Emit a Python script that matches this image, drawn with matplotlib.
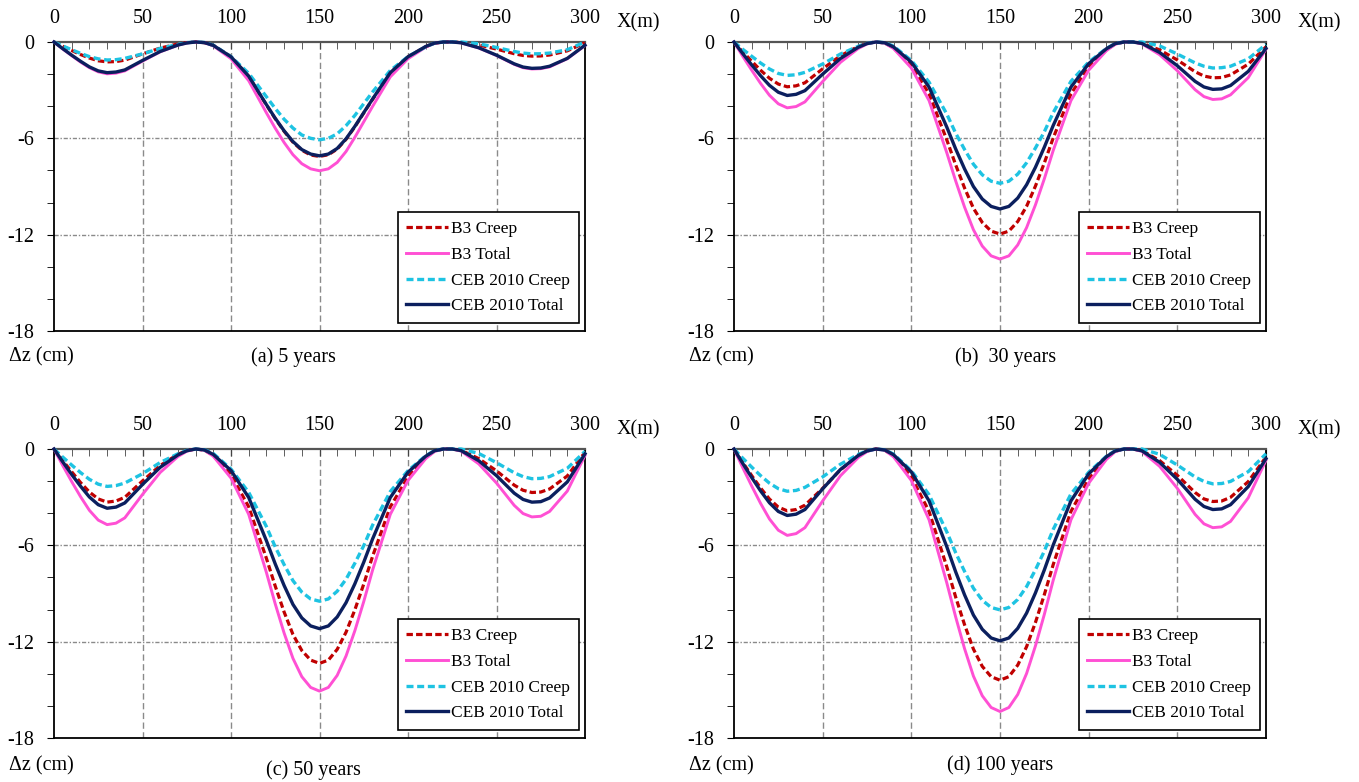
import numpy as np
import matplotlib
matplotlib.use('Agg')
import matplotlib.pyplot as plt
from matplotlib.ticker import MultipleLocator

plt.rcParams['font.family'] = ['Liberation Serif', 'DejaVu Serif']
plt.rcParams['axes.unicode_minus'] = False

# 位置 X (m)
X_M = [0, 5, 10, 15, 20, 25, 30, 35, 40, 50, 60, 70, 75, 80, 85, 90, 100, 110, 120, 125, 130, 135,
       140, 145, 150, 155, 160, 165, 170, 175, 180, 190, 200, 210, 215, 220, 225, 230, 240, 250,
       260, 265, 270, 275, 280, 290, 300]

# (a) 5 years
a_b3_creep = [0, -0.27, -0.53, -0.78, -1.00, -1.17, -1.24, -1.22, -1.13, -0.74, -0.38, -0.12, -0.04, 0, -0.04, -0.21, -0.93, -2.14, -3.92, -4.78, -5.56, -6.24, -6.74, -7.04, -7.13, -7.02, -6.67, -6.06, -5.28, -4.42, -3.57, -1.93, -0.93, -0.29, -0.07, 0, 0, -0.03, -0.19, -0.44, -0.73, -0.84, -0.88, -0.87, -0.81, -0.55, -0.05]
a_b3_total = [0, -0.44, -0.85, -1.25, -1.60, -1.86, -1.98, -1.94, -1.80, -1.19, -0.61, -0.20, -0.06, 0, -0.04, -0.24, -1.04, -2.41, -4.41, -5.37, -6.26, -7.02, -7.58, -7.90, -8.02, -7.90, -7.50, -6.82, -5.93, -4.97, -4.01, -2.17, -1.04, -0.32, -0.08, 0, 0, -0.05, -0.37, -0.84, -1.39, -1.60, -1.68, -1.66, -1.55, -1.04, -0.22]
a_ceb_creep = [0, -0.25, -0.48, -0.71, -0.91, -1.05, -1.12, -1.10, -1.02, -0.74, -0.40, -0.15, -0.04, 0, -0.03, -0.20, -0.91, -1.95, -3.41, -4.14, -4.81, -5.36, -5.79, -6.00, -6.09, -6.00, -5.72, -5.21, -4.57, -3.84, -3.11, -1.77, -0.91, -0.30, -0.07, 0, 0, 0, -0.11, -0.34, -0.59, -0.69, -0.74, -0.73, -0.69, -0.48, 0]
a_ceb_total = [0, -0.42, -0.82, -1.20, -1.55, -1.80, -1.91, -1.87, -1.74, -1.15, -0.59, -0.19, -0.06, 0, -0.04, -0.21, -0.92, -2.13, -3.90, -4.75, -5.53, -6.20, -6.70, -6.98, -7.09, -6.98, -6.63, -6.03, -5.25, -4.40, -3.55, -1.91, -0.92, -0.28, -0.07, 0, 0, -0.05, -0.36, -0.82, -1.36, -1.56, -1.64, -1.62, -1.51, -1.02, -0.20]

# (b) 30 years
b_b3_creep = [0, -0.61, -1.20, -1.76, -2.26, -2.62, -2.79, -2.73, -2.54, -1.67, -0.86, -0.28, -0.08, 0, -0.06, -0.36, -1.44, -3.23, -6.10, -7.65, -9.09, -10.35, -11.24, -11.78, -11.96, -11.78, -11.18, -10.23, -8.97, -7.53, -5.98, -3.23, -1.55, -0.48, -0.12, 0, 0, -0.07, -0.49, -1.12, -1.85, -2.12, -2.23, -2.21, -2.05, -1.38, -0.30]
b_b3_total = [0, -0.90, -1.76, -2.58, -3.32, -3.85, -4.10, -4.02, -3.73, -2.46, -1.27, -0.41, -0.12, 0, -0.07, -0.41, -1.62, -3.65, -6.90, -8.65, -10.28, -11.69, -12.71, -13.32, -13.52, -13.32, -12.64, -11.56, -10.14, -8.52, -6.76, -3.65, -1.76, -0.54, -0.14, 0, 0, -0.11, -0.79, -1.79, -2.97, -3.40, -3.58, -3.54, -3.29, -2.22, -0.45]
b_ceb_creep = [0, -0.46, -0.89, -1.31, -1.68, -1.96, -2.08, -2.04, -1.89, -1.37, -0.75, -0.27, -0.08, 0, -0.04, -0.26, -1.15, -2.50, -4.49, -5.68, -6.69, -7.61, -8.27, -8.67, -8.80, -8.67, -8.23, -7.52, -6.60, -5.59, -4.40, -2.45, -1.25, -0.40, -0.10, 0, 0, 0, -0.24, -0.75, -1.30, -1.51, -1.62, -1.60, -1.51, -1.05, -0.15]
b_ceb_total = [0, -0.73, -1.43, -2.10, -2.70, -3.13, -3.33, -3.26, -3.03, -2.00, -1.03, -0.33, -0.10, 0, -0.05, -0.31, -1.25, -2.81, -5.30, -6.66, -7.90, -9.00, -9.78, -10.24, -10.40, -10.24, -9.72, -8.89, -7.80, -6.55, -5.20, -2.81, -1.35, -0.42, -0.10, 0, 0, -0.09, -0.65, -1.48, -2.45, -2.80, -2.95, -2.92, -2.71, -1.83, -0.40]

# (c) 50 years
c_b3_creep = [0, -0.73, -1.42, -2.09, -2.68, -3.11, -3.31, -3.24, -3.01, -1.99, -1.03, -0.33, -0.10, 0, -0.07, -0.40, -1.60, -3.60, -6.81, -8.54, -10.15, -11.55, -12.55, -13.15, -13.35, -13.15, -12.48, -11.41, -10.01, -8.41, -6.68, -3.60, -1.74, -0.53, -0.13, 0, 0, -0.08, -0.60, -1.36, -2.25, -2.57, -2.71, -2.68, -2.49, -1.68, -0.20]
c_b3_total = [0, -1.04, -2.03, -2.97, -3.82, -4.43, -4.71, -4.62, -4.29, -2.83, -1.46, -0.47, -0.14, 0, -0.08, -0.45, -1.81, -4.07, -7.69, -9.65, -11.46, -13.04, -14.18, -14.85, -15.08, -14.85, -14.10, -12.89, -11.31, -9.50, -7.54, -4.07, -1.96, -0.60, -0.15, 0, 0, -0.13, -0.93, -2.12, -3.51, -4.02, -4.23, -4.19, -3.89, -2.62, -0.40]
c_ceb_creep = [0, -0.51, -1.00, -1.47, -1.89, -2.19, -2.33, -2.28, -2.12, -1.54, -0.84, -0.30, -0.09, 0, -0.05, -0.28, -1.25, -2.70, -4.83, -6.10, -7.20, -8.20, -8.91, -9.34, -9.48, -9.34, -8.86, -8.11, -7.11, -6.02, -4.74, -2.65, -1.35, -0.42, -0.10, 0, 0, 0, -0.28, -0.85, -1.48, -1.72, -1.85, -1.83, -1.72, -1.20, -0.15]
c_ceb_total = [0, -0.81, -1.59, -2.32, -2.99, -3.47, -3.69, -3.62, -3.36, -2.21, -1.14, -0.37, -0.11, 0, -0.06, -0.34, -1.34, -3.02, -5.71, -7.16, -8.50, -9.68, -10.52, -11.02, -11.19, -11.02, -10.46, -9.57, -8.39, -7.05, -5.60, -3.02, -1.45, -0.45, -0.11, 0, 0, -0.10, -0.73, -1.66, -2.75, -3.14, -3.31, -3.28, -3.05, -2.05, -0.30]

# (d) 100 years
d_b3_creep = [0, -0.85, -1.66, -2.43, -3.12, -3.62, -3.85, -3.77, -3.50, -2.45, -1.30, -0.42, -0.12, 0, -0.07, -0.43, -1.73, -3.89, -7.34, -9.22, -10.94, -12.46, -13.54, -14.18, -14.40, -14.18, -13.46, -12.31, -10.80, -9.07, -7.20, -3.89, -1.87, -0.58, -0.14, 0, 0, -0.10, -0.72, -1.64, -2.71, -3.11, -3.27, -3.24, -3.01, -2.03, -0.50]
d_b3_total = [0, -1.18, -2.31, -3.39, -4.36, -5.06, -5.38, -5.27, -4.90, -3.23, -1.67, -0.54, -0.16, 0, -0.08, -0.49, -1.96, -4.41, -8.34, -10.46, -12.43, -14.14, -15.37, -16.10, -16.35, -16.10, -15.29, -13.98, -12.26, -10.30, -8.18, -4.41, -2.13, -0.65, -0.16, 0, 0, -0.15, -1.08, -2.45, -4.07, -4.66, -4.90, -4.85, -4.51, -3.04, -0.70]
d_ceb_creep = [0, -0.58, -1.13, -1.66, -2.13, -2.47, -2.63, -2.58, -2.39, -1.74, -0.95, -0.34, -0.11, 0, -0.05, -0.32, -1.35, -2.85, -5.16, -6.46, -7.62, -8.67, -9.42, -9.87, -10.02, -9.87, -9.37, -8.57, -7.52, -6.36, -5.01, -2.80, -1.45, -0.45, -0.11, 0, 0, 0, -0.33, -1.00, -1.74, -2.02, -2.17, -2.15, -2.02, -1.41, -0.30]
d_ceb_total = [0, -0.91, -1.78, -2.61, -3.35, -3.89, -4.14, -4.06, -3.77, -2.48, -1.28, -0.41, -0.12, 0, -0.06, -0.36, -1.43, -3.23, -6.09, -7.65, -9.08, -10.34, -11.23, -11.77, -11.95, -11.77, -11.17, -10.22, -8.96, -7.53, -5.98, -3.23, -1.55, -0.48, -0.12, 0, 0, -0.11, -0.83, -1.89, -3.13, -3.58, -3.77, -3.73, -3.47, -2.34, -0.60]

SERIES_LABELS = ["B3 Creep", "B3 Total", "CEB 2010 Creep", "CEB 2010 Total"]
PANEL_TITLES = ["(a) 5 years", "(b)  30 years", "(c) 50 years", "(d) 100 years"]
X_TICKS = [0, 50, 100, 150, 200, 250, 300]
Y_TICKS = [0, -6, -12, -18]

panel_data = [
    [a_b3_creep, a_b3_total, a_ceb_creep, a_ceb_total],
    [b_b3_creep, b_b3_total, b_ceb_creep, b_ceb_total],
    [c_b3_creep, c_b3_total, c_ceb_creep, c_ceb_total],
    [d_b3_creep, d_b3_total, d_ceb_creep, d_ceb_total],
]

# 線のスタイル (色, 太さ, 破線パターン)
styles = [
    dict(color='#C00000', lw=2.3, dashes=(2.0, 1.0)),
    dict(color='#FF50D4', lw=2.1),
    dict(color='#1EC3E2', lw=2.4, dashes=(2.1, 1.1)),
    dict(color='#0B1F5E', lw=2.4),
]

W, H = 1359, 782
fig = plt.figure(figsize=(W / 100, H / 100), dpi=100)

# 各パネルの位置 (ピクセル: left, top, right, bottom)
boxes = [(54, 42, 585, 331), (734, 42, 1266, 331), (54, 449, 585, 738), (734, 449, 1266, 738)]
title_pos = [(0.45, -0.09), (0.51, -0.09), (0.488, -0.11), (0.50, -0.095)]
dz_pos = [-0.09, -0.09, -0.095, -0.095]

for i, (l, t, r, b) in enumerate(boxes):
    ax = fig.add_axes([l / W, 1 - b / H, (r - l) / W, (b - t) / H])
    ax.set_xlim(0, 300)
    ax.set_ylim(-18, 0)

    # グリッド線
    for xv in X_TICKS[1:-1]:
        ax.axvline(xv, color='#8a8a8a', lw=1.0, dashes=(4.5, 2.5), zorder=1)
    for yv in Y_TICKS[1:-1]:
        ax.axhline(yv, color='#8a8a8a', lw=1.0, dashes=(3, 1.3, 1, 1.3), zorder=1)

    for vals, lab, st in zip(panel_data[i], SERIES_LABELS, styles):
        kw = dict(color=st['color'], lw=st['lw'], label=lab, clip_on=False, zorder=3)
        if 'dashes' in st:
            kw['dashes'] = st['dashes']
        ax.plot(X_M, vals, **kw)

    # 軸の設定
    ax.xaxis.tick_top()
    ax.set_xticks(X_TICKS)
    ax.xaxis.set_minor_locator(MultipleLocator(10))
    ax.tick_params(axis='x', which='both', direction='in', length=5, top=True, bottom=False,
                   labeltop=True, labelbottom=False, pad=10, labelsize=14.5, color='#444444')
    ax.set_yticks(Y_TICKS)
    ax.yaxis.set_minor_locator(MultipleLocator(2))
    ax.tick_params(axis='y', which='both', direction='out', length=5, pad=9, labelsize=14.5,
                   left=True, right=False)
    for side in ['left', 'bottom', 'right']:
        ax.spines[side].set_linewidth(1.3)
        ax.spines[side].set_color('black')
    ax.spines['top'].set_linewidth(1.6)
    ax.spines['top'].set_color('#555555')

    ax.text(1.10, 1.066, "X(m)", transform=ax.transAxes, ha='center', va='center', fontsize=14.5)
    ax.text(-0.085, dz_pos[i], "\u0394z (cm)", transform=ax.transAxes, ha='left', va='center', fontsize=14.5)
    ax.text(title_pos[i][0], title_pos[i][1], PANEL_TITLES[i], transform=ax.transAxes,
            ha='center', va='center', fontsize=14.5)

    leg = ax.legend(loc='lower right', bbox_to_anchor=(1 - 6 / 531, 8 / 289), borderaxespad=0,
                    fontsize=12.5, handlelength=2.4, handletextpad=0.2, labelspacing=0.55,
                    borderpad=0.5, fancybox=False, framealpha=1, edgecolor='black')
    leg.get_frame().set_linewidth(1.2)
    leg.set_zorder(5)

fig.savefig("out.png", dpi=100)
